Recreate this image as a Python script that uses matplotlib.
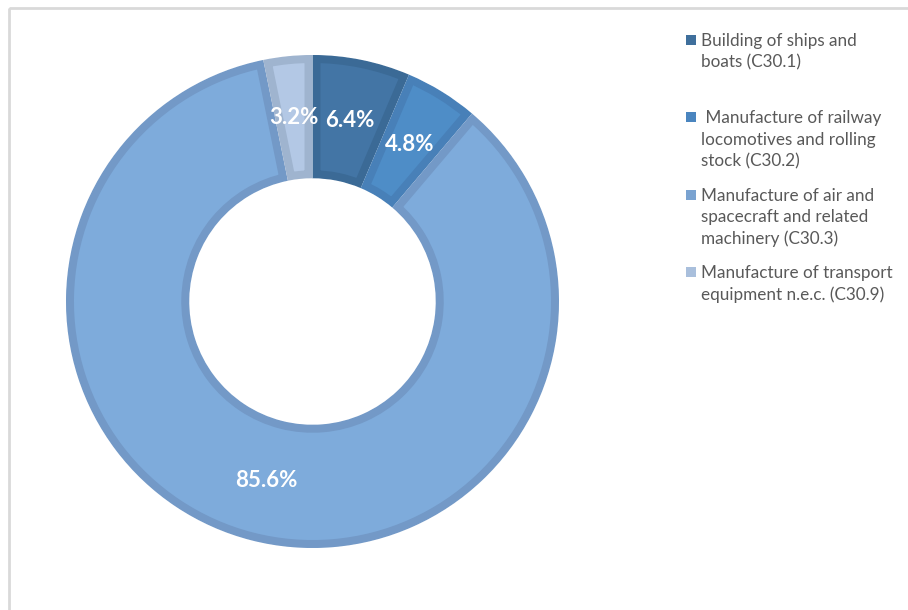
import matplotlib
matplotlib.use("Agg")
import matplotlib.pyplot as plt
from matplotlib.patches import Rectangle, Wedge

# Share of turnover by NACE subsector (C30)
labels = [
    "Building of ships and\nboats (C30.1)",
    " Manufacture of railway\nlocomotives and rolling\nstock (C30.2)",
    "Manufacture of air and\nspacecraft and related\nmachinery (C30.3)",
    "Manufacture of transport\nequipment n.e.c. (C30.9)",
]
shares = [6.4, 4.8, 85.6, 3.2]
fill_colors = ["#4375a5", "#4e8dc7", "#7eabdb", "#b3c8e5"]
edge_colors = ["#3b6a96", "#4880b8", "#7399c7", "#9fb4cf"]
legend_colors = ["#3f6f9c", "#4a85bf", "#7aa3d1", "#a9bfdc"]

W, H, DPI = 908, 610, 100
fig = plt.figure(figsize=(W / DPI, H / DPI), dpi=DPI)
fig.patch.set_facecolor("white")

def px(x, y):
    """pixel (from top-left) -> figure fraction"""
    return x / W, 1 - y / H

# chart-area frame (top and left edges visible)
fig.add_artist(Rectangle(px(9, 8), 1.2, -1.2, transform=fig.transFigure,
                         fill=False, edgecolor="#d9d9d9", linewidth=2.0))

# donut axes: centre (312.5, 301.5) px, outer radius 246.5 px
cx, cy, R = 312.5, 301.5, 246.5
ax = fig.add_axes([(cx - R) / W, (H - cy - R) / H, 2 * R / W, 2 * R / H])
ax.axis("off")

wedges, _, autotexts = ax.pie(
    shares, colors=fill_colors, startangle=90, counterclock=False,
    radius=1.0, autopct="%.1f%%", pctdistance=0.75,
    wedgeprops=dict(width=0.5, edgecolor="white", linewidth=0.8),
    textprops=dict(color="white", fontsize=16, fontweight="bold",
                   family=["Lato", "DejaVu Sans"]),
)
ax.set_xlim(-1, 1)
ax.set_ylim(-1, 1)

# inner bevel: a thick darker stroke clipped to each wedge
for w, ec in zip(wedges, edge_colors):
    rim = Wedge(w.center, w.r, w.theta1, w.theta2, width=w.width,
                facecolor="none", edgecolor=ec, linewidth=11.5, zorder=w.zorder + 0.1)
    ax.add_patch(rim)
    rim.set_clip_path(w)
for t in autotexts:
    t.set_zorder(5)

# legend drawn as squares + text lines
line_pitch = 21.7
item_pitch = 77.3
for i, (lab, col) in enumerate(zip(labels, legend_colors)):
    y0 = 40 + i * item_pitch
    fig.add_artist(Rectangle(px(686, y0 + 5), 10 / W, 10 / H,
                             transform=fig.transFigure, facecolor=col,
                             edgecolor="none"))
    for j, line in enumerate(lab.split("\n")):
        x, y = px(701, y0 + j * line_pitch + 6)
        fig.text(x, y, line, ha="left", va="baseline", fontsize=12.3,
                 color="#595959", family=["Lato", "DejaVu Sans"])

fig.savefig("out.png", dpi=DPI)
